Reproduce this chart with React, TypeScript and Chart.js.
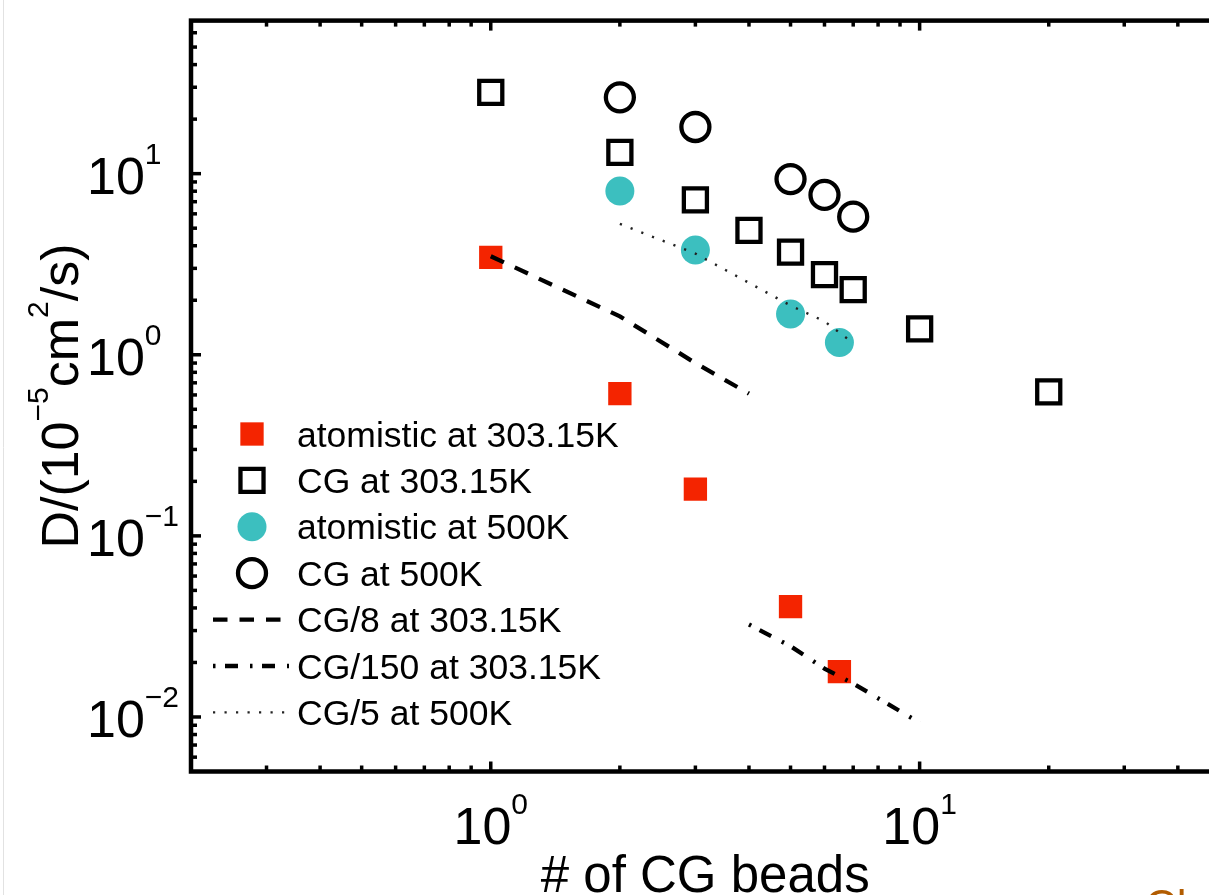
import React, { useEffect, useRef } from 'react';
import { Chart, registerables } from 'chart.js';

Chart.register(...registerables);

const FONT = '"Liberation Sans", Arial, Helvetica, sans-serif';

// ---- data ----
const xAtom303 = [1, 2, 3, 5, 6.5];
const dAtom303 = [3.45, 0.61, 0.181, 0.0407, 0.0178];

const xCG303 = [1, 2, 3, 4, 5, 6, 7, 10, 20];
const dCG303 = [28.1, 13.1, 7.17, 4.86, 3.69, 2.77, 2.29, 1.39, 0.624];

const xAtom500 = [2, 3, 5, 6.5];
const dAtom500 = [8.02, 3.79, 1.68, 1.17];

const xCG500 = [2, 3, 5, 6, 7];
const dCG500 = [26.4, 18.1, 9.33, 7.63, 5.79];

const xCG8 = [1, 2, 3, 4];
const dCG8 = [3.5, 1.63, 0.9, 0.61];

const xCG150 = [4, 5, 6, 7, 10];
const dCG150 = [0.0324, 0.0246, 0.0185, 0.0153, 0.0093];

const xCG5 = [2, 3, 5, 6, 7];
const dCG5 = [5.28, 3.62, 1.87, 1.53, 1.16];

const seriesLabels = [
  'atomistic at 303.15K',
  'CG at 303.15K',
  'atomistic at 500K',
  'CG at 500K',
  'CG/8 at 303.15K',
  'CG/150 at 303.15K',
  'CG/5 at 500K',
];

const xLimits = [0.2, 50];
const yLimits = [0.005, 70];
const xMajor = [1, 10];
const xMajorLabels = [['10', '0'], ['10', '1']];
const yMajor = [0.01, 0.1, 1, 10];
const yMajorLabels = [['10', '\u22122'], ['10', '\u22121'], ['10', '0'], ['10', '1']];
const minorMultipliers = [2, 3, 4, 5, 6, 7, 8, 9];
const decades = [-3, -2, -1, 0, 1, 2];

const xTitle = '# of CG beads';
const yTitleParts: [string, boolean][] = [
  ['D/(10', false],
  ['\u22125', true],
  ['cm', false],
  ['2', true],
  ['/s)', false],
];

const RED = 'rgb(244,36,0)';
const TEAL = 'rgb(60,191,191)';

const pts = (xs: number[], ys: number[]) => xs.map((x, i) => ({ x, y: ys[i] }));

const decorPlugin = {
  id: 'decor',
  afterDraw(chart: any) {
    const ctx: CanvasRenderingContext2D = chart.ctx;
    const xs = chart.scales.x;
    const ys = chart.scales.y;
    const a = chart.chartArea;
    ctx.save();

    // faint page edge line
    ctx.strokeStyle = '#e2e2e2';
    ctx.lineWidth = 1;
    ctx.beginPath();
    ctx.moveTo(3.5, 0);
    ctx.lineTo(3.5, 895);
    ctx.stroke();

    // frame
    ctx.strokeStyle = '#000';
    ctx.lineWidth = 4.5;
    ctx.lineJoin = 'miter';
    ctx.setLineDash([]);
    ctx.strokeRect(a.left, a.top, a.right - a.left, a.bottom - a.top);

    // ticks
    ctx.lineWidth = 3.5;
    ctx.lineCap = 'butt';
    const tick = (x1: number, y1: number, x2: number, y2: number) => {
      ctx.beginPath();
      ctx.moveTo(x1, y1);
      ctx.lineTo(x2, y2);
      ctx.stroke();
    };
    for (const e of decades) {
      const base = Math.pow(10, e);
      for (const m of [1, ...minorMultipliers]) {
        const len = m === 1 ? 10 : 6;
        const v = m * base;
        if (v > xLimits[0] * 1.0001 && v < xLimits[1] * 0.9999) {
          const px = xs.getPixelForValue(v);
          tick(px, a.bottom, px, a.bottom - len);
          tick(px, a.top, px, a.top + len);
        }
        if (v > yLimits[0] * 1.0001 && v < yLimits[1] * 0.9999) {
          const py = ys.getPixelForValue(v);
          tick(a.left, py, a.left + len, py);
          tick(a.right, py, a.right - len, py);
        }
      }
    }

    // tick labels
    ctx.fillStyle = '#000';
    ctx.textBaseline = 'alphabetic';
    ctx.textAlign = 'left';
    const mainFont = `52px ${FONT}`;
    const supFont = `30px ${FONT}`;
    xMajor.forEach((v, i) => {
      const px = xs.getPixelForValue(v);
      ctx.font = mainFont;
      const w1 = ctx.measureText(xMajorLabels[i][0]).width;
      ctx.font = supFont;
      const w2 = ctx.measureText(xMajorLabels[i][1]).width;
      const start = px - (w1 + w2) / 2;
      ctx.font = mainFont;
      ctx.fillText(xMajorLabels[i][0], start, a.bottom + 72);
      ctx.font = supFont;
      ctx.fillText(xMajorLabels[i][1], start + w1, a.bottom + 42);
    });
    yMajor.forEach((v, i) => {
      const py = ys.getPixelForValue(v);
      ctx.font = mainFont;
      const w1 = ctx.measureText(yMajorLabels[i][0]).width;
      const start = 87;
      ctx.fillText(yMajorLabels[i][0], start, py + 20);
      ctx.font = supFont;
      ctx.fillText(yMajorLabels[i][1], start + w1, py - 10);
    });

    // x title
    ctx.font = `51px ${FONT}`;
    ctx.textAlign = 'center';
    ctx.fillText(xTitle, (a.left + a.right) / 2, 892);

    // y title (rotated, with superscripts)
    ctx.save();
    ctx.translate(78, (a.top + a.bottom) / 2);
    ctx.rotate(-Math.PI / 2);
    ctx.textAlign = 'left';
    let total = 0;
    const widths = yTitleParts.map(([t, sup]) => {
      ctx.font = sup ? supFont : mainFont;
      const w = ctx.measureText(t).width;
      total += w;
      return w;
    });
    let cx = -total / 2;
    yTitleParts.forEach(([t, sup], i) => {
      ctx.font = sup ? supFont : mainFont;
      ctx.fillText(t, cx, sup ? -30 : 0);
      cx += widths[i];
    });
    ctx.restore();

    // legend
    const ds = chart.data.datasets;
    const mx = 252;
    const lineX1 = 213;
    const lineX2 = 289;
    const textX = 297;
    ctx.font = `35.5px ${FONT}`;
    ctx.textAlign = 'left';
    ds.forEach((d: any, i: number) => {
      const cy = 434 + i * 46.4;
      ctx.save();
      if (d.showLine) {
        ctx.strokeStyle = d.borderColor;
        ctx.lineWidth = d.borderWidth;
        ctx.setLineDash(d.borderDash || []);
        ctx.beginPath();
        ctx.moveTo(lineX1, cy);
        ctx.lineTo(lineX2, cy);
        ctx.stroke();
      } else {
        const r = d.pointRadius;
        ctx.lineWidth = d.pointBorderWidth;
        ctx.strokeStyle = d.pointBorderColor;
        ctx.fillStyle = d.pointBackgroundColor;
        ctx.beginPath();
        if (d.pointStyle === 'rect') {
          const s = Math.SQRT1_2 * r;
          ctx.rect(mx - s, cy - s, 2 * s, 2 * s);
        } else {
          ctx.arc(mx, cy, r, 0, Math.PI * 2);
        }
        ctx.fill();
        if (d.pointBorderWidth > 0) ctx.stroke();
      }
      ctx.restore();
      ctx.fillStyle = '#000';
      ctx.fillText(d.label, textX, cy + 12.5);
    });

    // clipped neighbouring text at the bottom right
    ctx.fillStyle = 'rgb(178,92,0)';
    ctx.font = `44px ${FONT}`;
    ctx.textAlign = 'left';
    ctx.fillText('Cl', 1145, 921);

    ctx.restore();
  },
};

export default function App() {
  const ref = useRef<HTMLCanvasElement | null>(null);

  useEffect(() => {
    document.body.style.margin = '0';
    document.body.style.overflow = 'hidden';
    const canvas = ref.current!;
    const markerBase = { showLine: false, order: 1 };
    const lineBase = {
      showLine: true,
      pointRadius: 0,
      borderColor: '#000',
      fill: false,
      order: 0,
      tension: 0,
    };
    const chart = new Chart(canvas, {
      type: 'scatter',
      data: {
        datasets: [
          {
            ...markerBase,
            label: seriesLabels[0],
            data: pts(xAtom303, dAtom303),
            pointStyle: 'rect',
            pointRadius: 16.5,
            pointBackgroundColor: RED,
            pointBorderColor: RED,
            pointBorderWidth: 0,
          },
          {
            ...markerBase,
            label: seriesLabels[1],
            data: pts(xCG303, dCG303),
            pointStyle: 'rect',
            pointRadius: 16.3,
            pointBackgroundColor: 'rgba(0,0,0,0)',
            pointBorderColor: '#000',
            pointBorderWidth: 4.3,
          },
          {
            ...markerBase,
            label: seriesLabels[2],
            data: pts(xAtom500, dAtom500),
            pointStyle: 'circle',
            pointRadius: 14.5,
            pointBackgroundColor: TEAL,
            pointBorderColor: TEAL,
            pointBorderWidth: 0,
          },
          {
            ...markerBase,
            label: seriesLabels[3],
            data: pts(xCG500, dCG500),
            pointStyle: 'circle',
            pointRadius: 14,
            pointBackgroundColor: 'rgba(0,0,0,0)',
            pointBorderColor: '#000',
            pointBorderWidth: 4.3,
          },
          {
            ...lineBase,
            label: seriesLabels[4],
            data: pts(xCG8, dCG8),
            borderWidth: 4.3,
            borderDash: [14.5, 12],
          },
          {
            ...lineBase,
            label: seriesLabels[5],
            data: pts(xCG150, dCG150),
            borderWidth: 4.3,
            borderDash: [2.5, 9.5, 13, 12],
          },
          {
            ...lineBase,
            label: seriesLabels[6],
            data: pts(xCG5, dCG5),
            borderColor: '#222',
            borderWidth: 2.4,
            borderDash: [2.2, 9.3],
          },
        ] as any,
      },
      options: {
        responsive: false,
        animation: false,
        devicePixelRatio: 1,
        events: [],
        layout: { padding: { left: 191, top: 9, right: 18, bottom: 123.5 } },
        scales: {
          x: { type: 'logarithmic', min: xLimits[0], max: xLimits[1], display: false },
          y: { type: 'logarithmic', min: yLimits[0], max: yLimits[1], display: false },
        },
        plugins: {
          legend: { display: false },
          tooltip: { enabled: false },
          title: { display: false },
        },
      } as any,
      plugins: [decorPlugin],
    });
    return () => chart.destroy();
  }, []);

  return (
    <div
      style={{
        position: 'absolute',
        left: 0,
        top: 0,
        width: 1209,
        height: 895,
        overflow: 'hidden',
        background: '#fff',
      }}
    >
      <canvas ref={ref} width={1240} height={895} style={{ display: 'block' }} />
    </div>
  );
}
